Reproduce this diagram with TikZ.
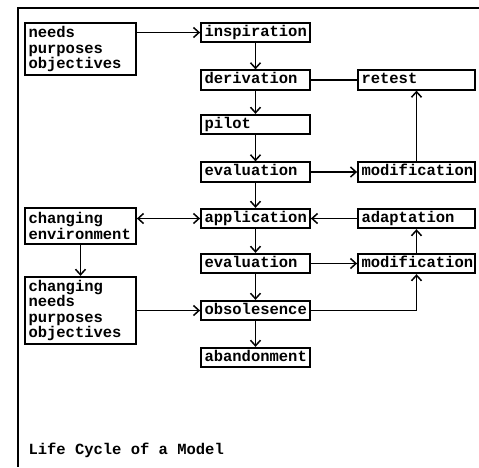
\documentclass[tikz,border=0pt]{standalone}
\usepackage{fontspec}
\newfontfamily\dotmatrix{Liberation Mono}
\usetikzlibrary{arrows.meta}

\tikzset{
  box/.style={draw,line width=1.8pt,inner xsep=3.5pt,inner ysep=2pt,align=left,
    font=\dotmatrix\bfseries\fontsize{15.5}{15.5}\selectfont},
  midbox/.style={box,text width=102pt,minimum height=19.5pt,text height=10.5pt,text depth=3pt},
  sidebox/.style={box,text width=110pt,minimum height=19.5pt,text height=10.5pt,text depth=3pt},
  leftbox/.style={box,text width=104pt},
  link/.style={line width=1.5pt}
}

\begin{document}
\begin{tikzpicture}[x=1pt,y=-1pt,>={Straight Barb[length=5.5pt,width=10pt]}]
\useasboundingbox (0,0) rectangle (479,467);
\draw[line width=1.8pt] (479,8) -- (18,8) -- (18,467);

\node (needs) at (80.5,49) [leftbox,minimum height=52.5pt] {needs\\purposes\\objectives};
\node (env) at (80.5,226) [leftbox,minimum height=36.5pt] {changing\\environment};
\node (chneeds) at (80.5,310.5) [leftbox,minimum height=67.5pt] {changing\\needs\\purposes\\objectives};

\node (insp) at (255.5,32.5) [midbox] {inspiration};
\node (deriv) at (255.5,80) [midbox] {derivation};
\node (pilot) at (255.5,124.5) [midbox] {pilot};
\node (evalA) at (255.5,172) [midbox] {evaluation};
\node (appl) at (255.5,218.5) [midbox] {application};
\node (evalB) at (255.5,263.5) [midbox] {evaluation};
\node (obsol) at (255.5,310.5) [midbox] {obsolesence};
\node (aband) at (255.5,357.5) [midbox] {abandonment};

\node (retest) at (416.5,80) [sidebox] {retest};
\node (modA) at (416.5,172) [sidebox] {modification};
\node (adapt) at (416.5,218.5) [sidebox] {adaptation};
\node (modB) at (416.5,263.5) [sidebox] {modification};

\node (title) at (25,454) [anchor=base west,font=\dotmatrix\bfseries\fontsize{15.5}{15.5}\selectfont] {Life Cycle of a Model};

\draw[link,->] (needs.east |- insp) -- (insp);
\draw[link,->] (insp) -- (deriv);
\draw[link,->] (deriv) -- (pilot);
\draw[link,->] (pilot) -- (evalA);
\draw[link,->] (evalA) -- (appl);
\draw[link,->] (appl) -- (evalB);
\draw[link,->] (evalB) -- (obsol);
\draw[link,->] (obsol) -- (aband);
\draw[link] (deriv) -- (retest);
\draw[link,->] (evalA) -- (modA);
\draw[link,->] (modA) -- (retest);
\draw[link,<->] (env.east |- appl) -- (appl);
\draw[link,->] (adapt) -- (appl);
\draw[link,->] (modB) -- (adapt);
\draw[link,->] (evalB) -- (modB);
\draw[link,->] (env) -- (chneeds);
\draw[link,->] (chneeds) -- (obsol);
\draw[link,->] (obsol) -| (modB);
\end{tikzpicture}
\end{document}
